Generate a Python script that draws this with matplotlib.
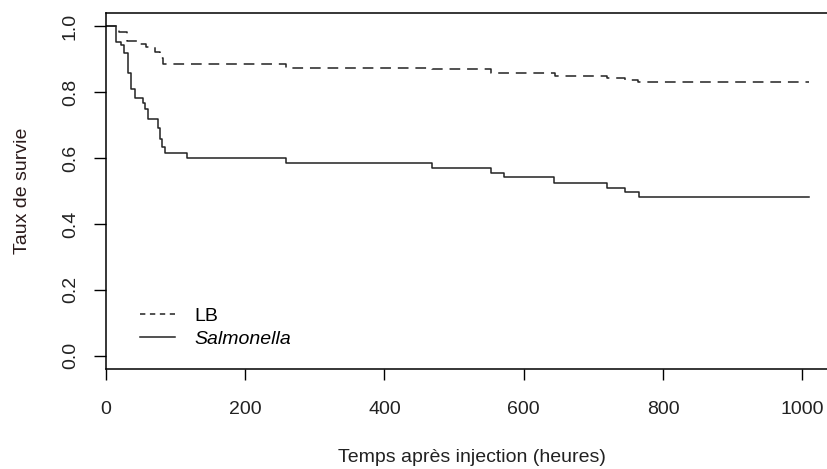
import matplotlib
matplotlib.use("Agg")
import matplotlib.pyplot as plt
from matplotlib.lines import Line2D

# Kaplan-Meier estimates (time in hours, survival fraction)
lb_time = [0, 18, 30, 46, 58, 70, 78, 82, 258, 468, 553, 645, 720, 746, 764, 1010]
lb_surv = [1.0, 0.982, 0.955, 0.945, 0.938, 0.923, 0.903, 0.884, 0.873, 0.869,
           0.859, 0.849, 0.844, 0.838, 0.832, 0.832]

sal_time = [0, 15, 22, 26, 31, 36, 41, 53, 56, 61, 74, 78, 80, 85, 116, 258,
            468, 553, 572, 644, 719, 746, 766, 1010]
sal_surv = [1.0, 0.952, 0.942, 0.920, 0.859, 0.809, 0.781, 0.766, 0.748, 0.718,
            0.690, 0.659, 0.634, 0.614, 0.601, 0.584, 0.569, 0.556, 0.541, 0.525,
            0.510, 0.498, 0.481, 0.481]

x_ticks = [0, 200, 400, 600, 800, 1000]
y_ticks = [0.0, 0.2, 0.4, 0.6, 0.8, 1.0]

plt.rcParams['font.family'] = ['Liberation Sans', 'DejaVu Sans']
W, H = 827, 469
fs = 14
fig = plt.figure(figsize=(W / 100, H / 100), dpi=100)
ax = fig.add_axes([106 / W, 100 / H, 731 / W, 356 / H])

curve_col = '#222222'
ax.step(lb_time, lb_surv, where='post', color=curve_col, lw=1.1,
        linestyle=(0, (7, 4.5)))
ax.step(sal_time, sal_surv, where='post', color=curve_col, lw=1.1)

ax.set_xlim(0, 1050)
ax.set_ylim(-0.04, 1.04)
ax.set_xticks(x_ticks)
ax.set_xticklabels([str(v) for v in x_ticks], fontsize=fs, color='#222222')
ax.set_yticks(y_ticks)
ax.set_yticklabels(['%.1f' % v for v in y_ticks], fontsize=fs, color='#222222',
                   rotation=90, va='center')
ax.tick_params(axis='x', length=8, width=1, pad=15)
ax.tick_params(axis='y', length=8.5, width=1, pad=11)
for s in ax.spines.values():
    s.set_linewidth(1.1)

ax.set_xlabel('Temps après injection (heures)', fontsize=fs, color='#222222',
              labelpad=22)
ax.set_ylabel('Taux de survie', fontsize=fs, color='#2a1a1a', labelpad=22)

handles = [Line2D([], [], color=curve_col, lw=1.1, linestyle=(0, (3.5, 3))),
           Line2D([], [], color=curve_col, lw=1.1)]
leg = ax.legend(handles, ['LB', 'Salmonella'], loc='lower left',
                bbox_to_anchor=(0.047, 0.06), frameon=False, fontsize=fs,
                handlelength=1.8, handletextpad=1.0, labelspacing=0.25,
                borderpad=0, borderaxespad=0)
leg.get_texts()[1].set_fontstyle('italic')

fig.savefig('out.png', dpi=100)
